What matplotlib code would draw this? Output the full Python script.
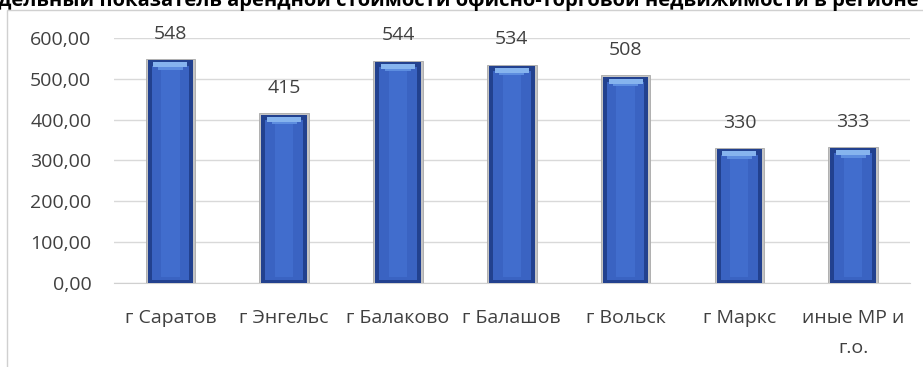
import matplotlib
matplotlib.use("Agg")
import matplotlib.pyplot as plt
from matplotlib.patches import Rectangle
import numpy as np

plt.rcParams['font.family'] = ['Open Sans', 'DejaVu Sans']

title = "Удельный показатель арендной стоимости офисно-торговой недвижимости в регионе"
categories = ["г Саратов", "г Энгельс", "г Балаково", "г Балашов", "г Вольск", "г Маркс", "иные МР и\nг.о."]
values = [548, 415, 544, 534, 508, 330, 333]
yticks = [0, 100, 200, 300, 400, 500, 600]
ytick_labels = ["0,00", "100,00", "200,00", "300,00", "400,00", "500,00", "600,00"]

fig = plt.figure(figsize=(9.23, 3.67), dpi=100)
ax = fig.add_axes([0.123, 0.229, 0.863, 0.668])

# chart frame
fig.patches.append(Rectangle((0.008, -0.05), 1.2, 1.022, transform=fig.transFigure,
                             fill=False, edgecolor="#d0d0d0", linewidth=1.0))

x = np.arange(len(categories))
v = np.array(values, dtype=float)
# beveled bars: gray rim, dark blue edge, mid-blue face, light top bevel
ax.bar(x, v, width=0.435, color="#c4c4c4", edgecolor="#a8a8a8", linewidth=0.6, zorder=3)
ax.bar(x, v - 3, width=0.40, color="#22418f", linewidth=0, zorder=4)
ax.bar(x, v - 24, bottom=8, width=0.33, color="#3a63c2", linewidth=0, zorder=5)
ax.bar(x, v - 40, bottom=14, width=0.16, color="#416dcd", linewidth=0, zorder=6)
ax.bar(x, [12] * len(v), bottom=v - 20, width=0.30, color="#86b4ee", linewidth=0, zorder=6)
ax.bar(x, [6] * len(v), bottom=v - 26, width=0.22, color="#5d8ddf", linewidth=0, zorder=6)

for xi, vi in zip(x, values):
    ax.text(xi, vi + 40, f"{vi}", ha="center", va="bottom", fontsize=14, color="#404040")

ax.set_xlim(-0.5, len(categories) - 0.5)
ax.set_ylim(0, 600)
ax.set_yticks(yticks)
ax.set_yticklabels(ytick_labels, fontsize=14, color="#404040")
ax.set_xticks(x)
ax.set_xticklabels(categories, fontsize=14, color="#404040", linespacing=1.85, va="top")
ax.tick_params(axis="both", length=0)
ax.tick_params(axis="x", pad=19)
ax.tick_params(axis="y", pad=16)
ax.grid(axis="y", color="#d9d9d9", linewidth=1.0, zorder=0)
for s in ["top", "right", "left"]:
    ax.spines[s].set_visible(False)
ax.spines["bottom"].set_color("#d0d0d0")
ax.spines["bottom"].set_zorder(2)

fig.text(0.49, 0.998, title, ha="center", va="center", fontsize=14.5,
         fontweight="bold", color="black")

fig.savefig("out.png", dpi=100)
